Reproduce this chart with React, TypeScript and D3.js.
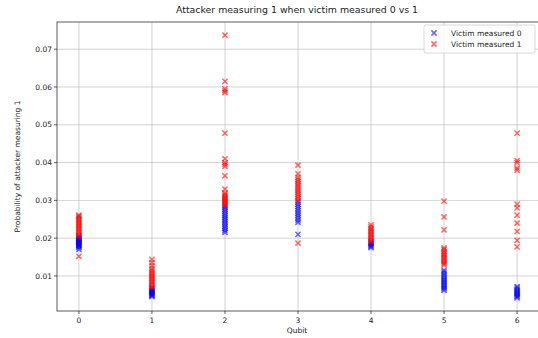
import React from 'react'
import * as d3 from 'd3'

const qubits = [0, 1, 2, 3, 4, 5, 6]

// probability of attacker measuring 1, victim measured 0
const victim0 = [
  [0.0170, 0.0175, 0.0178, 0.0180, 0.0182, 0.0184, 0.0186, 0.0188, 0.0190, 0.0192, 0.0194, 0.0196, 0.0198, 0.0200, 0.0203, 0.0206],
  [0.0045, 0.0048, 0.0050, 0.0052, 0.0054, 0.0056, 0.0058, 0.0060, 0.0062, 0.0065, 0.0068],
  [0.0215, 0.0220, 0.0225, 0.0230, 0.0235, 0.0240, 0.0245, 0.0250, 0.0255, 0.0260, 0.0265, 0.0270, 0.0275, 0.0280, 0.0285],
  [0.0210, 0.0242, 0.0248, 0.0254, 0.0260, 0.0266, 0.0272, 0.0278, 0.0284, 0.0290, 0.0296],
  [0.0175, 0.0178, 0.0181, 0.0184, 0.0187, 0.0190],
  [0.0062, 0.0066, 0.0070, 0.0074, 0.0078, 0.0082, 0.0086, 0.0090, 0.0095, 0.0100, 0.0105, 0.0110, 0.0115],
  [0.0042, 0.0045, 0.0048, 0.0051, 0.0054, 0.0057, 0.0060, 0.0064, 0.0068, 0.0072],
]

// probability of attacker measuring 1, victim measured 1
const victim1 = [
  [0.0152, 0.0205, 0.0210, 0.0214, 0.0218, 0.0222, 0.0226, 0.0230, 0.0234, 0.0238, 0.0242, 0.0246, 0.0250, 0.0254, 0.0258, 0.0261],
  [0.0070, 0.0074, 0.0078, 0.0082, 0.0086, 0.0090, 0.0094, 0.0098, 0.0102, 0.0106, 0.0110, 0.0115, 0.0120, 0.0127, 0.0135, 0.0144],
  [0.0287, 0.0290, 0.0293, 0.0296, 0.0299, 0.0302, 0.0305, 0.0308, 0.0312, 0.0316, 0.0320, 0.0330, 0.0365, 0.0390, 0.0395, 0.0400, 0.0410, 0.0478, 0.0585, 0.0590, 0.0595, 0.0615, 0.0737],
  [0.0187, 0.0300, 0.0305, 0.0310, 0.0315, 0.0320, 0.0325, 0.0330, 0.0335, 0.0340, 0.0345, 0.0350, 0.0355, 0.0361, 0.0370, 0.0393],
  [0.0190, 0.0194, 0.0198, 0.0202, 0.0206, 0.0210, 0.0214, 0.0218, 0.0222, 0.0226, 0.0230, 0.0235],
  [0.0129, 0.0133, 0.0137, 0.0141, 0.0145, 0.0149, 0.0153, 0.0157, 0.0161, 0.0165, 0.0170, 0.0174, 0.0222, 0.0256, 0.0298],
  [0.0177, 0.0194, 0.0218, 0.0240, 0.0261, 0.0280, 0.0290, 0.0380, 0.0385, 0.0400, 0.0405, 0.0478],
]

const yTicks = [0.01, 0.02, 0.03, 0.04, 0.05, 0.06, 0.07]
const seriesNames = ['Victim measured 0', 'Victim measured 1']
const seriesColors = ['#0000ff', '#ff0000']

const width = 538
const height = 338
const margin = { top: 22, right: 539, bottom: 311, left: 57 }
const font = 'DejaVu Sans, sans-serif'

const XMark = ({ x, y, color, r = 2.6 }: { x: number; y: number; color: string; r?: number }) => (
  <path
    d={`M${x - r},${y - r}L${x + r},${y + r}M${x - r},${y + r}L${x + r},${y - r}`}
    stroke={color}
    strokeWidth={1.5}
    strokeOpacity={0.6}
    fill="none"
  />
)

export default function App() {
  const x = d3.scaleLinear().domain([-0.3, 6.3]).range([margin.left, margin.right])
  const y = d3.scaleLinear().domain([0.00072, 0.0772]).range([margin.bottom, margin.top])

  const series = [victim0, victim1]

  return (
    <svg
      width={width}
      height={height}
      style={{ position: 'absolute', left: 0, top: 0, background: '#fff' }}
      fontFamily={font}
    >
      <rect width={width} height={height} fill="#fff" />
      {/* grid */}
      {qubits.map((q) => (
        <line key={'gx' + q} x1={x(q)} x2={x(q)} y1={margin.top} y2={margin.bottom} stroke="#b0b0b0" strokeWidth={0.7} opacity={0.8} />
      ))}
      {yTicks.map((t) => (
        <line key={'gy' + t} x1={margin.left} x2={margin.right} y1={y(t)} y2={y(t)} stroke="#b0b0b0" strokeWidth={0.7} opacity={0.8} />
      ))}

      {/* points */}
      {series.map((s, si) =>
        s.map((vals, qi) =>
          vals.map((v, i) => <XMark key={`${si}-${qi}-${i}`} x={x(qubits[qi])} y={y(v)} color={seriesColors[si]} />)
        )
      )}

      {/* spines */}
      <rect
        x={margin.left}
        y={margin.top}
        width={margin.right - margin.left}
        height={margin.bottom - margin.top}
        fill="none"
        stroke="#333"
        strokeWidth={0.8}
      />

      {/* x ticks */}
      {qubits.map((q) => (
        <g key={'xt' + q}>
          <line x1={x(q)} x2={x(q)} y1={margin.bottom} y2={margin.bottom + 3} stroke="#333" strokeWidth={0.8} />
          <text x={x(q)} y={margin.bottom + 12} fontSize={7.5} textAnchor="middle" fill="#222">
            {q}
          </text>
        </g>
      ))}
      {/* y ticks */}
      {yTicks.map((t) => (
        <g key={'yt' + t}>
          <line x1={margin.left - 3} x2={margin.left} y1={y(t)} y2={y(t)} stroke="#333" strokeWidth={0.8} />
          <text x={margin.left - 5} y={y(t) + 2.7} fontSize={7.5} textAnchor="end" fill="#222">
            {d3.format('.2f')(t)}
          </text>
        </g>
      ))}

      {/* labels */}
      <text x={(margin.left + 537) / 2} y={13} fontSize={9.4} textAnchor="middle" fill="#222">
        Attacker measuring 1 when victim measured 0 vs 1
      </text>
      <text x={(margin.left + 537) / 2} y={333} fontSize={7.5} textAnchor="middle" fill="#222">
        Qubit
      </text>
      <text
        transform={`translate(20,${(margin.top + margin.bottom) / 2}) rotate(-90)`}
        fontSize={7.5}
        textAnchor="middle"
        fill="#222"
      >
        Probability of attacker measuring 1
      </text>

      {/* legend */}
      <g>
        <rect x={424} y={25} width={111} height={28} rx={2} fill="#fff" fillOpacity={0.8} stroke="#d0d0d0" strokeWidth={0.8} />
        {seriesNames.map((name, i) => (
          <g key={name}>
            <XMark x={434} y={33 + i * 11} color={seriesColors[i]} />
            <text x={451} y={35.7 + i * 11} fontSize={7.5} fill="#222">
              {name}
            </text>
          </g>
        ))}
      </g>
    </svg>
  )
}
